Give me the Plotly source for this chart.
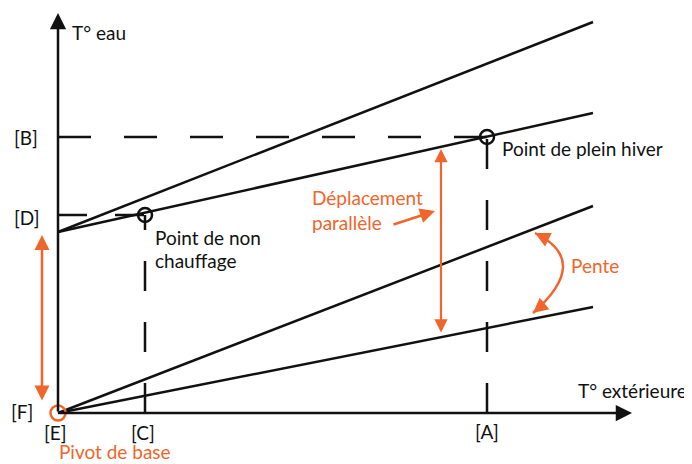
import plotly.graph_objects as go

# repère : origine au pivot de base [E]
x_fin = 535                       # abscisse de fin des droites
y_depart_haut = 181               # départ des droites décalées (sous [D])
y_fin_haut = [391, 300]           # droites décalées (pente forte, pente faible)
y_fin_bas = [207, 106]            # droites de base (pente forte, pente faible)

x_A, x_C = 429, 87                # [A] plein hiver, [C] non chauffage
y_B, y_D = 276, 198               # [B], [D]
x_axe_max, y_axe_max = 574, 400

orange = '#F0652B'
noir = '#111111'
police = 'Lato'

fig = go.Figure()

# droites de chauffe
for y_fin in y_fin_haut:
    fig.add_trace(go.Scatter(x=[0, x_fin], y=[y_depart_haut, y_fin], mode='lines',
                             line=dict(color=noir, width=2.5), hoverinfo='skip'))
for y_fin in y_fin_bas:
    fig.add_trace(go.Scatter(x=[0, x_fin], y=[0, y_fin], mode='lines',
                             line=dict(color=noir, width=2.5), hoverinfo='skip'))

# pointillés
fig.add_trace(go.Scatter(x=[0, x_A], y=[y_B, y_B], mode='lines',
                         line=dict(color=noir, width=2.5, dash='33px,33px')))
fig.add_trace(go.Scatter(x=[x_A, x_A], y=[0, y_B], mode='lines',
                         line=dict(color=noir, width=2.5, dash='30px,31px')))
fig.add_trace(go.Scatter(x=[0, x_C], y=[y_D, y_D], mode='lines',
                         line=dict(color=noir, width=2.5, dash='29px,28px')))
fig.add_trace(go.Scatter(x=[x_C, x_C], y=[0, y_D], mode='lines',
                         line=dict(color=noir, width=2.5, dash='30px,31px')))

# points remarquables
fig.add_trace(go.Scatter(x=[x_A, x_C], y=[y_B, y_D], mode='markers',
                         marker=dict(symbol='circle-open', size=14, color=noir,
                                     line=dict(width=2.5, color=noir))))
fig.add_trace(go.Scatter(x=[0], y=[0], mode='markers',
                         marker=dict(symbol='circle-open', size=15, color=orange,
                                     line=dict(width=2.5, color=orange))))

# flèche courbe "Pente"
fig.add_shape(type='path', xref='x', yref='y',
              path='M 477,180 Q 534,152 475,100',
              line=dict(color=orange, width=2.5))

annotations = []

def fleche(x, y, ax, ay, couleur, largeur=2.5, taille=1.2, double=False):
    a = dict(x=x, y=y, ax=ax, ay=ay, xref='x', yref='y', axref='x', ayref='y',
             text='', showarrow=True, arrowhead=2, arrowsize=taille,
             arrowwidth=largeur, arrowcolor=couleur, standoff=0, startstandoff=0)
    if double:
        a.update(arrowside='end+start', startarrowhead=2, startarrowsize=taille)
    annotations.append(a)

# axes
fleche(x_axe_max, 0, 0, 0, noir, 2.5, 1.3)
fleche(0, y_axe_max, 0, 0, noir, 2.5, 1.3)

# flèches orange
fleche(-16, 178, -16, 11, orange, 2.5, 1.2, double=True)
fleche(383, 264, 383, 79, orange, 2.2, 1.2, double=True)
fleche(377, 202, 334, 188, orange, 2.5, 1.2)
fleche(477, 180, 489, 174, orange, 2.5, 1.2)
fleche(475, 100, 487, 110, orange, 2.5, 1.2)

def texte(t, x, y, couleur=noir, xanchor='center'):
    annotations.append(dict(x=x, y=y, xref='x', yref='y', text=t, showarrow=False,
                            xanchor=xanchor, yanchor='middle',
                            font=dict(family=police, size=19, color=couleur)))

texte('T° eau', 12, 381, xanchor='left')
texte('T° extérieure', 631, 23, xanchor='right')
texte('[B]', -32, 276)
texte('[D]', -31, 196)
texte('[F]', -36, 2)
texte('[E]', -3, -19)
texte('[C]', 85, -19)
texte('[A]', 429, -18)
texte('Pivot de base', 57, -38, orange)
texte('Point de plein hiver', 442, 265, xanchor='left')
texte('Point de non', 95, 176, xanchor='left')
texte('chauffage', 95, 153, xanchor='left')
texte('Déplacement', 252, 216, orange, xanchor='left')
texte('parallèle', 252, 191, orange, xanchor='left')
texte('Pente', 511, 148, orange, xanchor='left')

# la page ajoute une marge de 8 px : figure réduite d'autant
fig.update_layout(
    width=684, height=456,
    margin=dict(l=0, r=0, t=0, b=0),
    paper_bgcolor='white', plot_bgcolor='white',
    showlegend=False,
    xaxis=dict(range=[-50, 634], visible=False, fixedrange=True),
    yaxis=dict(range=[-51, 405], visible=False, fixedrange=True),
    annotations=annotations,
)

fig.write_html('out.html')
